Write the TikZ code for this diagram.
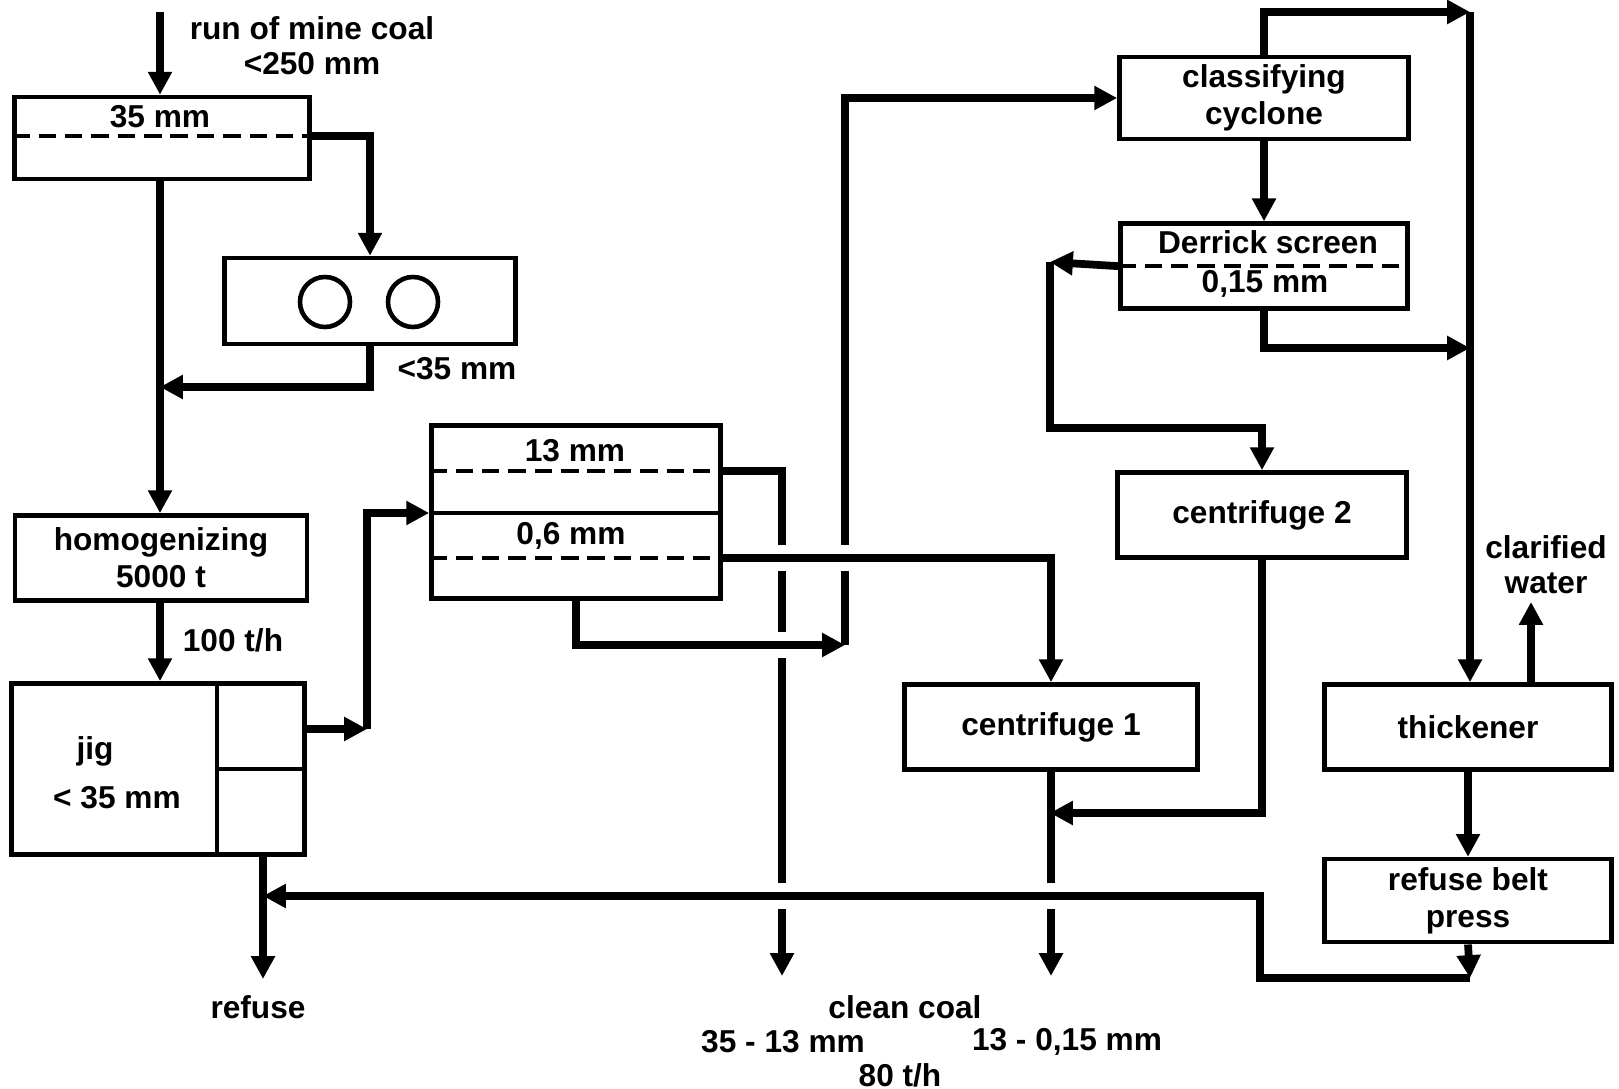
\documentclass[tikz,border=0pt]{standalone}
\usepackage{fontspec}
\setmainfont{Liberation Sans}
\usetikzlibrary{positioning, arrows.meta}

\begin{document}
\begin{tikzpicture}[
    x=0.01cm, y=-0.01cm,
    node distance=0.8cm and 0.8cm,
    plant/.style={draw, line width=1.3pt, minimum width=2.9cm, minimum height=0.85cm, inner sep=0pt, align=center, font=\fontsize{9}{10.5}\selectfont\bfseries},
    txt/.style={inner sep=0pt, align=center, font=\fontsize{9}{10}\selectfont\bfseries},
    stream/.style={-{Triangle[length=6.5pt, width=6.5pt]}, line width=2.2pt},
    sieve/.style={line width=1.1pt, dash pattern=on 5pt off 2.5pt},
    wall/.style={line width=1.3pt},
    jump/.style={draw=white, line width=4.5pt}
]
\useasboundingbox (0,0) rectangle (1619,1089);

\node[plant, minimum width=2.95cm, minimum height=0.82cm] (scr1) at (162,138) {};
\node[txt] (scr1cut) at (160,117) {35 mm};
\node[plant, minimum width=2.91cm, minimum height=0.86cm] (crush) at (370,301) {};
\node[plant, minimum width=2.92cm] (homog) at (161,558) {homogenizing\\5000 t};
\node[plant, minimum width=2.93cm, minimum height=1.71cm] (jig) at (158,769) {};
\node[txt] (jiglbl) at (95,751) {jig};
\node[txt] (jigcut) at (117,798) {< 35 mm};
\node[plant, minimum width=2.89cm, minimum height=1.73cm] (scr2) at (576,512) {};
\node[txt] (cut13) at (575,451) {13 mm};
\node[txt] (cut06) at (571,536) {0,6 mm};
\node[plant, minimum width=2.89cm, minimum height=0.82cm] (cycl) at (1264,98) {classifying\\cyclone};
\node[plant, minimum width=2.87cm, below=0.8cm of cycl] (derr) {};
\node[txt] (derrlbl) at (1268,242) {Derrick screen};
\node[txt] (cut015) at (1265,284) {0,15 mm};
\node[plant, minimum width=2.89cm] (cf2) at (1262,515) {centrifuge 2};
\node[plant, minimum width=2.93cm] (cf1) at (1051,727) {centrifuge 1};
\node[plant, minimum width=2.87cm] (thick) at (1468,727) {thickener};
\node[plant, minimum width=2.87cm, minimum height=0.83cm, below=0.85cm of thick] (press) {refuse belt\\press};

\node[txt] (feed) at (312,46) {run of mine coal\\<250 mm};
\node[txt] (crushcut) at (457,369) {<35 mm};
\node[txt] (rate) at (233,640) {100 t/h};
\node[txt] (water) at (1546,565) {clarified\\water};
\node[txt] (refuse) at (258,1007) {refuse};
\node[txt] (clean) at (905,1007) {clean coal};
\node[txt] (coarse) at (783,1042) {35 - 13 mm};
\node[txt] (fine) at (1067,1042) {13 - 0,15 mm};
\node[txt] (yield) at (900,1075) {80 t/h};

\coordinate (scr1dk) at (0,136);
\coordinate (jigdiv) at (217,0);
\coordinate (lvA) at (0,471);
\coordinate (lvB) at (0,513);
\coordinate (lvC) at (0,558);
\coordinate (lvD) at (0,428);
\coordinate (lvE) at (0,348);
\coordinate (in) at (160,12);
\coordinate (mrg) at (160,387);
\coordinate (j1) at (367,729);
\coordinate (c2) at (845,645);
\coordinate (c3) at (1470,12);
\coordinate (c4) at (1050,262);
\coordinate (cf1in) at (1050,813);
\coordinate (c6) at (1470,978);
\coordinate (r1) at (1260,896);
\coordinate (rj) at (263,896);
\coordinate (rout) at (263,979);
\coordinate (cc1) at (782,976);
\coordinate (cc2) at (1051,976);
\coordinate (cw) at (1531,602);

\draw[sieve] (scr1.west |- scr1dk) -- (scr1.east |- scr1dk);
\draw[wall] (325,302) circle[radius=0.25cm] (413,302) circle[radius=0.25cm];
\draw[wall] (jig.north -| jigdiv) -- (jig.south -| jigdiv);
\draw[wall] (jigdiv |- jig.center) -- (jig.east);
\draw[sieve] (scr2.west |- lvA) -- (scr2.east |- lvA);
\draw[wall] (scr2.west |- lvB) -- (scr2.east |- lvB);
\draw[sieve] (scr2.west |- lvC) -- (scr2.east |- lvC);
\draw[sieve] (derr.west) -- (derr.east);

\draw[stream] (in) -- (scr1.north -| in);
\draw[stream] (scr1.east |- scr1dk) -| (crush.north);
\draw[stream] (crush.south) |- (mrg);
\draw[stream] (scr1.south -| mrg) -- (homog.north -| mrg);
\draw[stream] (homog.south -| mrg) -- (jig.north -| mrg);
\draw[stream] (jig.east |- j1) -- (j1);
\draw[stream] (j1) |- (scr2.west |- lvB);
\draw[stream] (scr2.east |- lvA) -| (cc1);
\draw[stream] (c2) |- (cycl.west);
\draw[stream] (cf1.south) -- (cc2);
\draw[stream] (cycl.north) |- (c3);
\draw[stream] (c3) -- (thick.north -| c3);
\draw[stream] (cycl.south) -- (derr.north);
\draw[stream] (derr.west) -- (c4);
\draw[stream] (c4) |- (cf2.north |- lvD) -- (cf2.north);
\draw[stream] (derr.south) |- (c3 |- lvE);
\draw[stream] (cf2.south) |- (cf1in);
\draw[stream] (thick.north -| cw) -- (cw);
\draw[stream] (thick.south) -- (press.north);
\draw[stream] (press.south) -- (c6);
\draw[stream] (jig.south -| rj) -- (rout);

\foreach \gx/\gy in {782/558, 845/558, 782/645, 782/896, 1051/896}
    \draw[jump] (\gx,\gy-13) -- (\gx,\gy+13);

\draw[stream] (scr2.east |- lvC) -| (cf1.north);
\draw[stream] (scr2.south) |- (c2);
\draw[stream] (c6) -| (r1) -- (rj);
\end{tikzpicture}
\end{document}
